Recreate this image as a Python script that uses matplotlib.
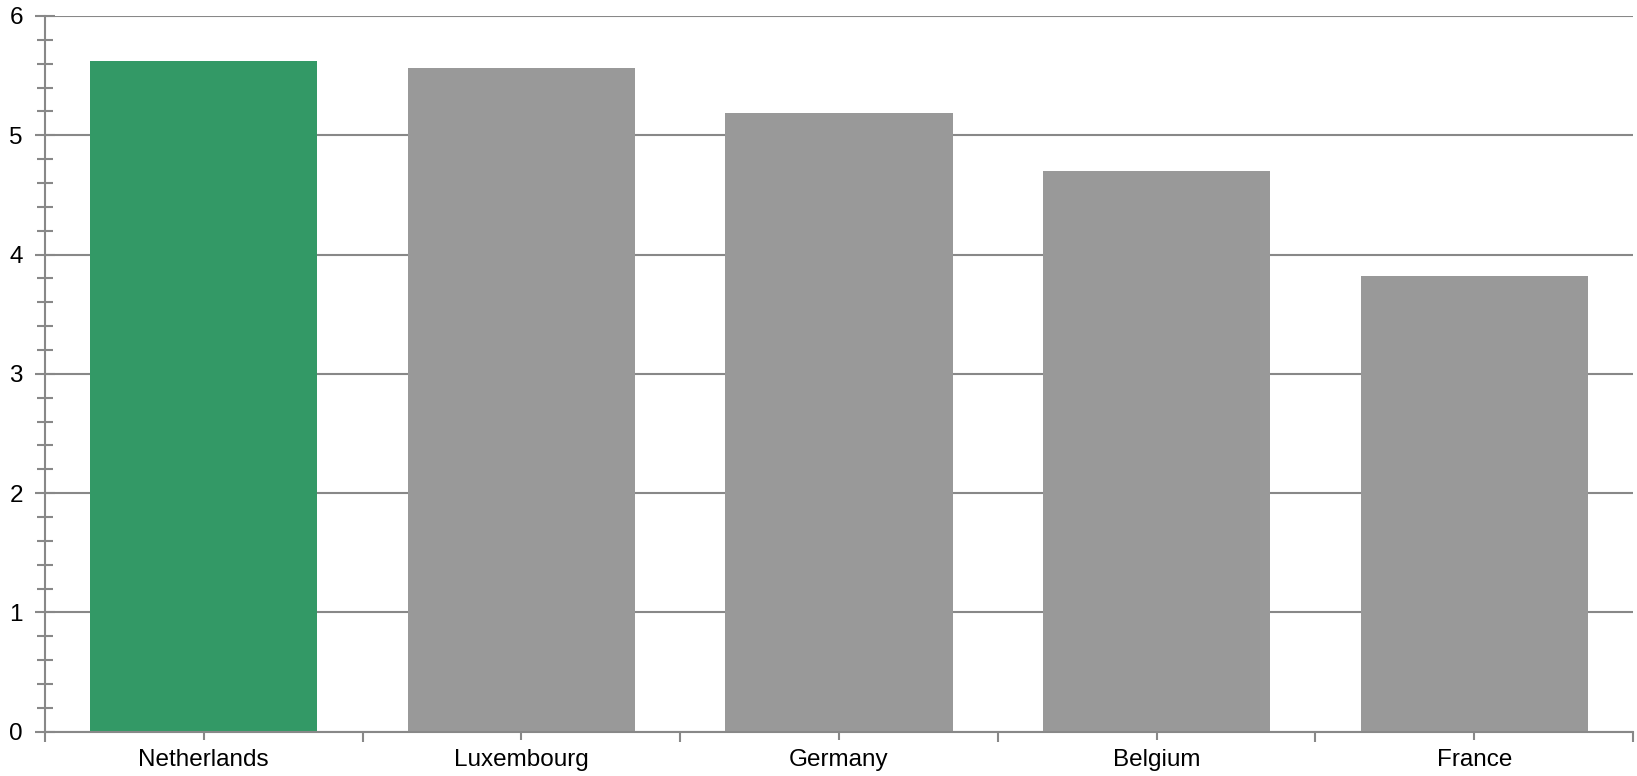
import matplotlib
matplotlib.use("Agg")
import matplotlib.pyplot as plt
from matplotlib.ticker import MultipleLocator, FixedLocator

countries = ["Netherlands", "Luxembourg", "Germany", "Belgium", "France"]
values = [5.62, 5.56, 5.19, 4.70, 3.82]
bar_colors = ["#339966", "#999999", "#999999", "#999999", "#999999"]

plt.rcParams['font.family'] = ['Liberation Sans', 'DejaVu Sans']
line_col = "#888888"

fig = plt.figure(figsize=(16.37, 7.76), dpi=100)
ax = fig.add_axes([45 / 1637, 1 - 731.7 / 776, (1633 - 45) / 1637, (731.7 - 16) / 776])

x = list(range(len(countries)))
ax.bar(x, values, width=0.715, color=bar_colors, zorder=3)

ax.set_xlim(-0.5, len(countries) - 0.5)
ax.set_ylim(0, 6)

# y axis: major every 1 with gridlines, minor every 0.2
ax.yaxis.set_major_locator(MultipleLocator(1))
ax.yaxis.set_minor_locator(MultipleLocator(0.2))
ax.grid(axis='y', color=line_col, linewidth=1.5, zorder=1)
ax.tick_params(axis='y', which='major', direction='inout', length=14, width=1.5,
               color=line_col, labelsize=17.5, pad=9)
ax.tick_params(axis='y', which='minor', direction='inout', length=11, width=1.5,
               color=line_col)

# x axis: labels at centres, separators at category boundaries
ax.set_xticks(x)
ax.set_xticklabels(countries)
ax.xaxis.set_minor_locator(FixedLocator([i - 0.5 for i in range(len(countries) + 1)]))
ax.tick_params(axis='x', which='major', direction='inout', length=11, width=1.5,
               color=line_col, labelsize=17.5, pad=7)
ax.tick_params(axis='x', which='minor', direction='out', length=7, width=1.5,
               color=line_col)

for s in ['top', 'right']:
    ax.spines[s].set_visible(False)
for s in ['left', 'bottom']:
    ax.spines[s].set_color(line_col)
    ax.spines[s].set_linewidth(1.5)
    ax.spines[s].set_zorder(4)

fig.savefig("out.png", dpi=100)
